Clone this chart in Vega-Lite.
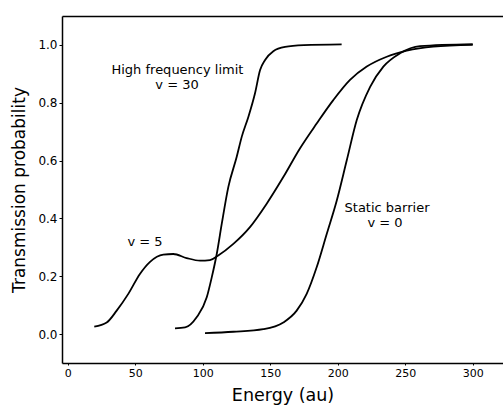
{
  "$schema": "https://vega.github.io/schema/vega-lite/v6.json",
  "autosize": {"type": "none"},
  "padding": {"left": 62, "top": 16, "right": 0, "bottom": 45},
  "width": 441,
  "height": 347,
  "background": "white",
  "config": {
    "view": {"stroke": null},
    "font": "DejaVu Sans",
    "axis": {"grid": false, "domainColor": "black", "domainWidth": 1.5, "tickColor": "black", "labelColor": "black", "titleColor": "black", "labelFont": "DejaVu Sans", "titleFont": "DejaVu Sans", "titleFontWeight": "normal"}
  },
  "datasets": {
    "curves": [
      {"series": "v5", "x": 19.7, "y": 0.026},
      {"series": "v5", "x": 28.9, "y": 0.040},
      {"series": "v5", "x": 36.3, "y": 0.081},
      {"series": "v5", "x": 44.9, "y": 0.139},
      {"series": "v5", "x": 53.5, "y": 0.208},
      {"series": "v5", "x": 61.0, "y": 0.250},
      {"series": "v5", "x": 70.8, "y": 0.275},
      {"series": "v5", "x": 78.2, "y": 0.277},
      {"series": "v5", "x": 88.1, "y": 0.263},
      {"series": "v5", "x": 98.0, "y": 0.254},
      {"series": "v5", "x": 105.4, "y": 0.256},
      {"series": "v5", "x": 111.5, "y": 0.272},
      {"series": "v5", "x": 122.7, "y": 0.312},
      {"series": "v5", "x": 135.0, "y": 0.370},
      {"series": "v5", "x": 147.4, "y": 0.451},
      {"series": "v5", "x": 159.7, "y": 0.543},
      {"series": "v5", "x": 172.0, "y": 0.642},
      {"series": "v5", "x": 184.4, "y": 0.728},
      {"series": "v5", "x": 196.7, "y": 0.809},
      {"series": "v5", "x": 209.1, "y": 0.879},
      {"series": "v5", "x": 221.5, "y": 0.925},
      {"series": "v5", "x": 236.3, "y": 0.959},
      {"series": "v5", "x": 251.1, "y": 0.980},
      {"series": "v5", "x": 270.8, "y": 0.994},
      {"series": "v5", "x": 300.0, "y": 1.000},
      {"series": "v30", "x": 79.5, "y": 0.020},
      {"series": "v30", "x": 87.0, "y": 0.023},
      {"series": "v30", "x": 95.5, "y": 0.058},
      {"series": "v30", "x": 103.0, "y": 0.127},
      {"series": "v30", "x": 106.7, "y": 0.196},
      {"series": "v30", "x": 110.4, "y": 0.277},
      {"series": "v30", "x": 114.1, "y": 0.381},
      {"series": "v30", "x": 119.0, "y": 0.509},
      {"series": "v30", "x": 125.2, "y": 0.613},
      {"series": "v30", "x": 128.9, "y": 0.682},
      {"series": "v30", "x": 133.8, "y": 0.751},
      {"series": "v30", "x": 138.7, "y": 0.832},
      {"series": "v30", "x": 142.5, "y": 0.913},
      {"series": "v30", "x": 146.2, "y": 0.948},
      {"series": "v30", "x": 152.3, "y": 0.978},
      {"series": "v30", "x": 161.0, "y": 0.993},
      {"series": "v30", "x": 175.0, "y": 0.999},
      {"series": "v30", "x": 202.9, "y": 1.002},
      {"series": "v0", "x": 101.7, "y": 0.003},
      {"series": "v0", "x": 122.7, "y": 0.008},
      {"series": "v0", "x": 144.9, "y": 0.017},
      {"series": "v0", "x": 159.7, "y": 0.040},
      {"series": "v0", "x": 169.6, "y": 0.081},
      {"series": "v0", "x": 177.0, "y": 0.139},
      {"series": "v0", "x": 184.4, "y": 0.231},
      {"series": "v0", "x": 191.9, "y": 0.347},
      {"series": "v0", "x": 199.3, "y": 0.462},
      {"series": "v0", "x": 206.7, "y": 0.601},
      {"series": "v0", "x": 214.1, "y": 0.740},
      {"series": "v0", "x": 224.0, "y": 0.855},
      {"series": "v0", "x": 233.8, "y": 0.925},
      {"series": "v0", "x": 246.1, "y": 0.971},
      {"series": "v0", "x": 260.9, "y": 0.996},
      {"series": "v0", "x": 300.0, "y": 1.003}
    ],
    "labels": [
      {"x": 81.3, "y": 0.912, "label": "High frequency limit"},
      {"x": 81.0, "y": 0.860, "label": "v = 30"},
      {"x": 57.3, "y": 0.320, "label": "v = 5"},
      {"x": 236.5, "y": 0.436, "label": "Static barrier"},
      {"x": 235.0, "y": 0.384, "label": "v = 0"}
    ]
  },
  "layer": [
    {
      "data": {"name": "curves"},
      "mark": {"type": "line", "color": "black", "strokeWidth": 1.8, "interpolate": "monotone"},
      "encoding": {
        "x": {"field": "x", "type": "quantitative", "scale": {"domain": [-4.2, 322.4], "nice": false, "zero": false},
              "axis": {"orient": "bottom", "values": [0, 50, 100, 150, 200, 250, 300], "format": "d", "labelFontSize": 11, "tickSize": 2, "labelPadding": 2, "title": "Energy (au)", "titleFontSize": 17.5, "titlePadding": 8}},
        "y": {"field": "y", "type": "quantitative", "scale": {"domain": [-0.1, 1.1], "nice": false, "zero": false},
              "axis": {"values": [0, 0.2, 0.4, 0.6, 0.8, 1.0], "format": ".1f", "labelFontSize": 12, "tickSize": 3, "labelPadding": 2, "title": "Transmission probability", "titleFontSize": 17, "titlePadding": 9}},
        "detail": {"field": "series", "type": "nominal"}
      }
    },
    {
      "data": {"name": "labels"},
      "mark": {"type": "text", "align": "center", "baseline": "middle", "fontSize": 13, "color": "black"},
      "encoding": {
        "x": {"field": "x", "type": "quantitative", "axis": {"orient": "top", "labels": false, "ticks": false, "title": null}},
        "y": {"field": "y", "type": "quantitative", "axis": null},
        "text": {"field": "label"}
      }
    }
  ],
  "resolve": {"axis": {"x": "independent", "y": "independent"}}
}
